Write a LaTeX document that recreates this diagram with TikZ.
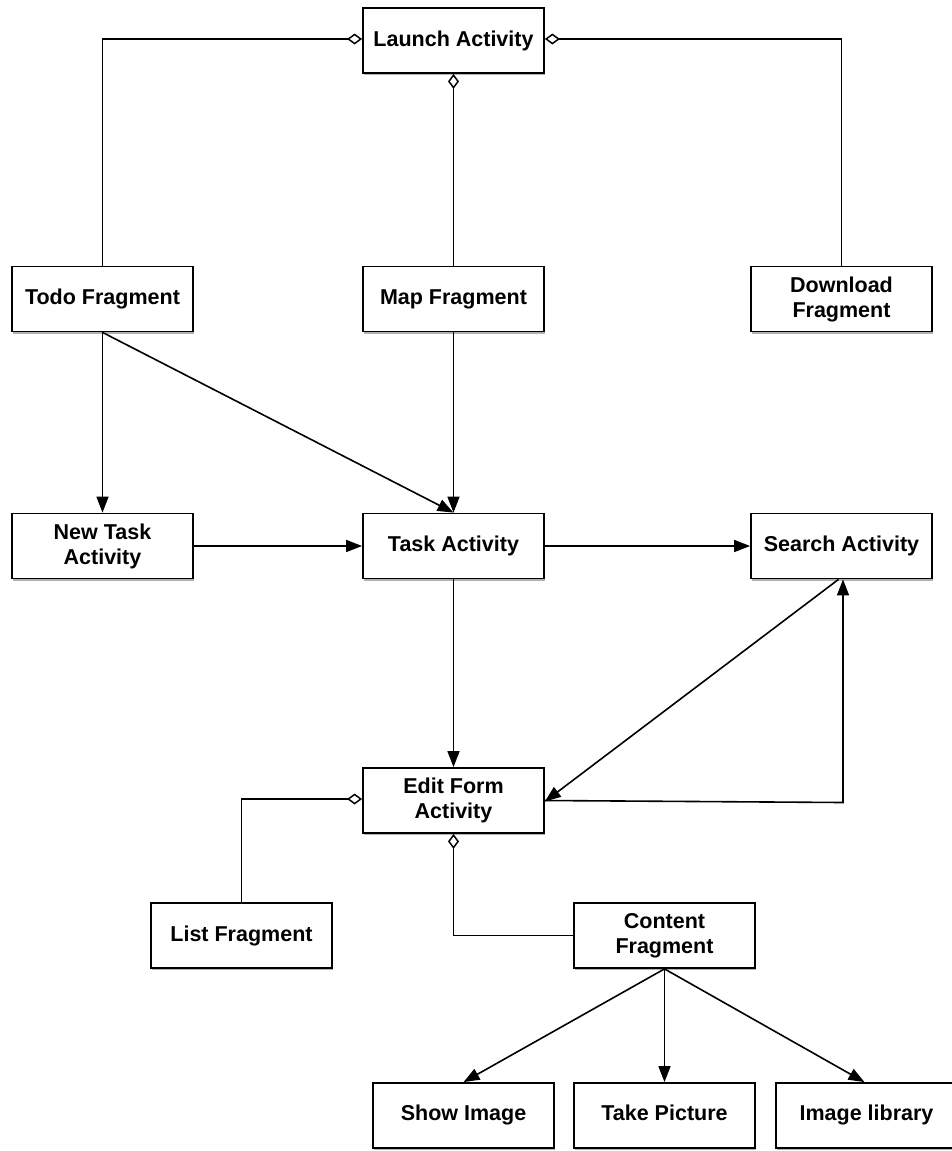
\documentclass[tikz,border=0pt]{standalone}
\usepackage{fontspec}
\setmainfont{Liberation Sans}
\usetikzlibrary{arrows.meta,shadows,calc}
\tikzset{
  box/.style={draw=black, line width=1.8pt, fill=white, minimum width=181pt, minimum height=65pt,
    align=center, inner sep=2pt, font=\bfseries\fontsize{21.5}{25}\selectfont,
    drop shadow={shadow xshift=1.2pt, shadow yshift=-2.2pt, fill=black, opacity=0.3}},
  flow/.style={line width=1.6pt, -{Triangle[length=16pt,width=12pt]}},
  agg/.style={line width=1.6pt, -{Diamond[open,length=15pt,width=11pt,line width=1.5pt]}}
}
\begin{document}
\begin{tikzpicture}[x=1pt,y=-1pt]
\useasboundingbox (0,0) rectangle (952,1151);
\node[box] (launch) at (453.5,40.5) {Launch Activity};
\node[box] (todo) at (102.5,299) {Todo Fragment};
\node[box] (map) at (453.5,299) {Map Fragment};
\node[box] (download) at (841.5,299) {Download\\Fragment};
\node[box] (newtask) at (102.5,546) {New Task\\Activity};
\node[box] (task) at (453.5,546) {Task Activity};
\node[box] (search) at (841.5,546) {Search Activity};
\node[box] (edit) at (453.5,800.5) {Edit Form\\Activity};
\node[box] (list) at (241.5,935.5) {List Fragment};
\node[box] (content) at (664.5,935.5) {Content\\Fragment};
\node[box] (show) at (463.5,1115.5) {Show Image\strut};
\node[box] (take) at (664.5,1115.5) {Take Picture\strut};
\node[box] (library) at (866.5,1115.5) {Image library\strut};

\draw[agg] (todo.north) |- ([yshift=1.5pt]launch.west);
\draw[agg] (map.north) -- (launch.south);
\draw[agg] (download.north) |- ([yshift=1.5pt]launch.east);

\draw[flow] (todo.south) -- (newtask.north);
\draw[flow] (todo.south) -- (task.north);
\draw[flow] (map.south) -- (task.north);
\draw[flow] (newtask.east) -- (task.west);
\draw[flow] (task.east) -- (search.west);
\draw[flow] (task.south) -- (edit.north);
\draw[flow] ([xshift=-3pt]search.south) -- ([yshift=-1pt]edit.east);
\coordinate (corner) at (843,802.5);
\draw[flow] (edit.east) -- (corner) -- (corner |- search.south);

\draw[agg] (list.north) |- ([yshift=1.5pt]edit.west);
\draw[agg] (content.west) -| (edit.south);

\draw[flow] (content.south) -- (show.north);
\draw[flow] (content.south) -- (take.north);
\draw[flow] (content.south) -- ([xshift=-2pt]library.north);
\end{tikzpicture}
\end{document}
